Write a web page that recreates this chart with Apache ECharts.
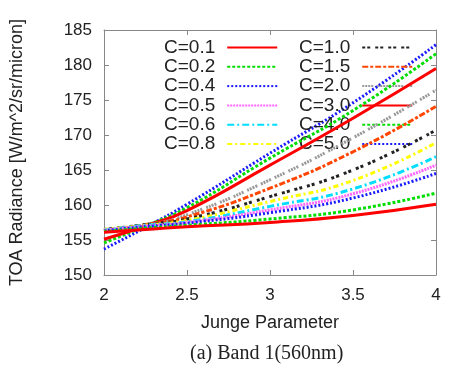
<!DOCTYPE html>
<html><head><meta charset="utf-8">
<script src="https://cdn.jsdelivr.net/npm/echarts@6/dist/echarts.min.js"></script>
<style>html,body{margin:0;padding:0;background:#fff}#c{width:451px;height:373px}</style>
</head><body><div id="c"></div>
<script>
const xVals = [2, 2.25, 2.5, 3, 3.5, 4];
const c01 = [156.1, 156.5, 156.9, 157.5, 158.5, 160.1];
const c02 = [156.2, 156.7, 157.1, 158.0, 159.3, 161.7];
const c04 = [156.3, 156.9, 157.4, 158.9, 161.0, 164.5];
const c05 = [156.4, 157.0, 157.5, 159.3, 161.6, 165.7];
const c06 = [156.4, 157.1, 157.6, 159.8, 162.3, 166.9];
const c08 = [156.5, 157.1, 157.8, 160.5, 163.5, 168.9];
const c10 = [156.5, 157.2, 158.0, 161.2, 165.0, 170.7];
const c15 = [156.4, 157.2, 158.3, 162.4, 167.6, 174.1];
const c20 = [156.2, 157.1, 158.6, 163.6, 169.6, 176.4];
const c30 = [155.1, 157.0, 159.2, 165.7, 172.4, 179.5];
const c40 = [154.6, 157.0, 159.6, 166.7, 173.5, 181.6];
const c50 = [153.7, 156.8, 160.1, 167.4, 174.6, 182.9];
const names = ['C=0.1','C=0.2','C=0.4','C=0.5','C=0.6','C=0.8','C=1.0','C=1.5','C=2.0','C=3.0','C=4.0','C=5.0'];
const values = [c01,c02,c04,c05,c06,c08,c10,c15,c20,c30,c40,c50];
const styles = [
  {color:'#ff0000', width:3, type:'solid'},
  {color:'#00dd00', width:3, type:[3,2]},
  {color:'#1a1aff', width:3, type:[2,2]},
  {color:'#ff66ff', width:3, type:[2,1]},
  {color:'#00ddff', width:3, type:[7,3,2,3]},
  {color:'#ffff00', width:3, type:[5,3,2,3]},
  {color:'#222222', width:3, type:[3,2,3,5]},
  {color:'#ff4500', width:3, type:[6,2,3,2]},
  {color:'#999999', width:3, type:[2,1,2,1,2,1,2,4]},
  {color:'#ff0000', width:3, type:'solid'},
  {color:'#00dd00', width:3, type:[3,2]},
  {color:'#1a1aff', width:3, type:[2,2]}
];
const tickFont = {fontFamily:'Liberation Sans, Arial', fontSize:17, color:'#222'};
const nameFont = {fontFamily:'Liberation Sans, Arial', fontSize:18, color:'#222'};
const series = names.map((n,i)=>({
  name:n, type:'line', smooth:true, symbol:'none', xAxisIndex:0, yAxisIndex:0,
  data: xVals.map((x,j)=>[x, values[i][j]]),
  lineStyle: styles[i], itemStyle:{color:styles[i].color}, z: 2 + (12-i)
}));
const legendBase = {
  orient:'vertical', align:'right', itemWidth:50, itemHeight:14, itemGap:0.3,
  itemStyle:{opacity:0},
  textStyle:{fontFamily:'Liberation Sans, Arial', fontSize:19, color:'#222', lineHeight:19, padding:[0,7,0,0]},
  inactiveColor:'#ccc'
};
const chart = echarts.init(document.getElementById('c'), null, {renderer:'canvas'});
chart.setOption({
  animation:false,
  backgroundColor:'#fff',
  grid:{left:104, right:15, top:30, bottom:98, show:false},
  legend:[
    Object.assign({}, legendBase, {left:159, top:33, data:names.slice(0,6)}),
    Object.assign({}, legendBase, {left:294, top:33, data:names.slice(6)})
  ],
  xAxis:[
    {type:'value', min:2, max:4, interval:0.5, position:'bottom',
     name:'Junge Parameter', nameLocation:'middle', nameGap:39,
     nameTextStyle:nameFont,
     axisLine:{show:true, lineStyle:{color:'#888', width:1}},
     axisTick:{show:true, inside:true, length:5, lineStyle:{color:'#888'}},
     axisLabel:Object.assign({margin:12}, tickFont),
     splitLine:{show:false}},
    {type:'value', min:2, max:4, interval:0.5, position:'top',
     axisLine:{show:true, onZero:false, lineStyle:{color:'#888', width:1}},
     axisTick:{show:true, inside:true, length:5, lineStyle:{color:'#888'}},
     axisLabel:{show:false}, splitLine:{show:false}}
  ],
  yAxis:[
    {type:'value', min:150, max:185, interval:5, position:'left',
     name:'TOA Radiance [W/m^2/sr/micron]', nameLocation:'middle', nameGap:78,
     nameTextStyle:nameFont,
     axisLine:{show:true, lineStyle:{color:'#888', width:1}},
     axisTick:{show:true, inside:true, length:5, lineStyle:{color:'#888'}},
     axisLabel:Object.assign({margin:12}, tickFont),
     splitLine:{show:false}},
    {type:'value', min:150, max:185, interval:5, position:'right',
     axisLine:{show:true, onZero:false, lineStyle:{color:'#888', width:1}},
     axisTick:{show:true, inside:true, length:5, lineStyle:{color:'#888'}},
     axisLabel:{show:false}, splitLine:{show:false}}
  ],
  graphic:[{type:'text', left:190, top:344,
    style:{text:'(a) Band 1(560nm)', font:'20px "Liberation Serif", "Times New Roman", serif', fill:'#222'}}],
  series: series
});
</script></body></html>
